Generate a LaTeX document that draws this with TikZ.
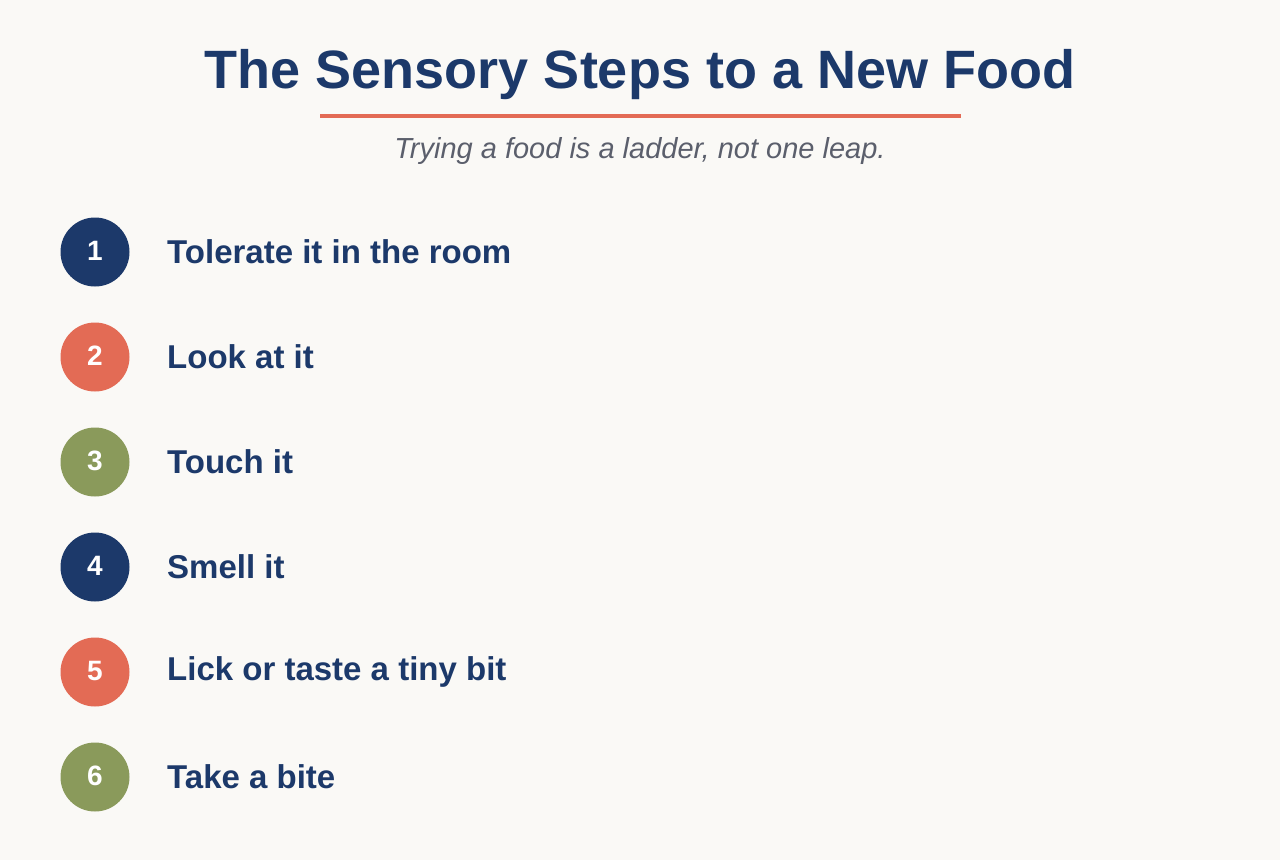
\documentclass[tikz,border=0pt]{standalone}
\usepackage{fontspec}
\setmainfont{Liberation Sans}
\definecolor{bg}{HTML}{FAF9F6}
\definecolor{navy}{HTML}{1C396A}
\definecolor{coral}{HTML}{E36B55}
\definecolor{olive}{HTML}{8A9A5B}
\definecolor{subgray}{HTML}{5B5F6C}
\tikzset{
  num/.style={circle,minimum size=69pt,inner sep=0pt,text=white,font=\bfseries\fontsize{28}{28}\selectfont},
  lbl/.style={anchor=west,text=navy,font=\bfseries\fontsize{33}{33}\selectfont,inner sep=0pt},
}
\begin{document}
\begin{tikzpicture}[x=1pt,y=-1pt]
\fill[bg] (0,0) rectangle (1280,860);
\useasboundingbox (0,0) rectangle (1280,860);
\node[text=navy,font=\bfseries\fontsize{54}{54}\selectfont] (title) at (640,75) {The Sensory Steps to a New Food};
\coordinate (la) at (320,116);
\coordinate (lb) at (961,116);
\draw[coral,line width=4pt] (la) -- (lb);
\node[text=subgray,font=\itshape\fontsize{29}{29}\selectfont] (sub) at (640,151) {Trying a food is a ladder, not one leap.};
\foreach \i/\c/\t in {1/navy/Tolerate it in the room,2/coral/Look at it,3/olive/Touch it,4/navy/Smell it,5/coral/Lick or taste a tiny bit,6/olive/Take a bite}{
  \pgfmathsetmacro{\yy}{252+105*(\i-1)}
  \node[num,fill=\c] (c\i) at (95,\yy) {\raisebox{3pt}{\i}};
  \node[lbl] (t\i) at (167,\yy) {\t};
}
\end{tikzpicture}
\end{document}
